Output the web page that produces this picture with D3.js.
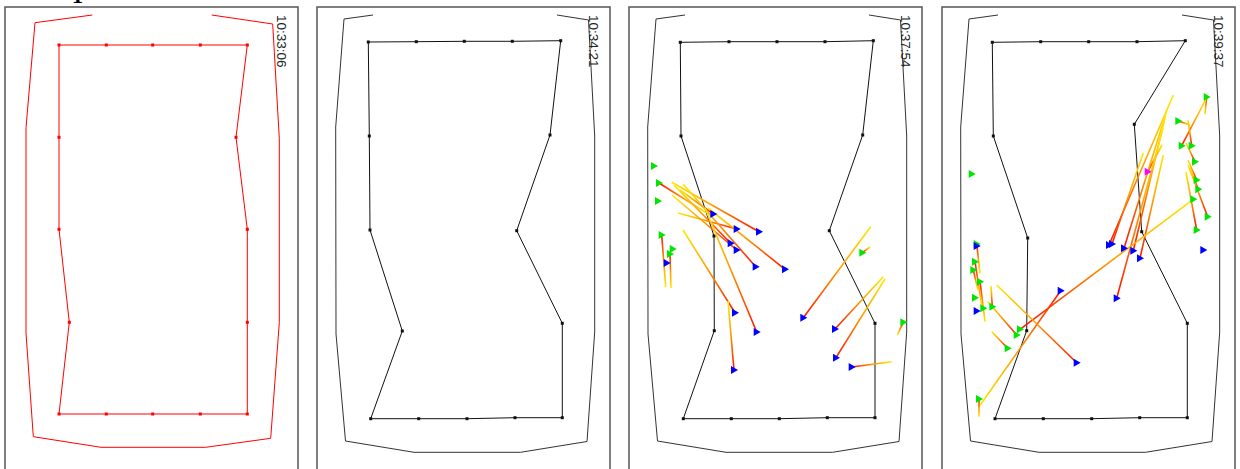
<!DOCTYPE html>
<html>
<head>
<meta charset="utf-8">
<script src="https://cdn.jsdelivr.net/npm/d3@7"></script>
<style>
  html, body { margin: 0; padding: 0; background: #fff; }
  svg { display: block; }
</style>
</head>
<body>
<svg id="chart" width="1240" height="469"></svg>
<script>
// ---------------- DATA (panel-local field units) ----------------
const panelLeft = [5, 317, 629, 942];
const timeLabels = ["10:33:06", "10:34:21", "10:37:54", "10:39:37"];

// outer boundary (open at the top)
const outer1 = [[87.3,15],[30,22.7],[21,127.7],[21,333],[28.3,436.7],[96,447.3],[200.7,447.3],[265.7,438.3],[274.3,322.7],[274.3,138.3],[267.7,24],[206.7,15]];
const outerStd = [[56,15],[27,19],[18.7,127],[19,334],[28.5,441],[97,452.3],[203.5,452.3],[270,441.5],[277.7,332],[277.7,136],[271.5,20],[240,15]];

// inner ring of 16 nodes (clockwise from top-left)
const inner1 = [[54,45],[101.3,45],[147.7,45],[195.3,45],[242.3,45],[231,137.3],[242.3,229.3],[242.3,322.3],[242.3,414],[195.3,414],[147.7,414],[101.3,414],[54,414],[64.3,322.3],[54,229.3],[54,137.3]];
const inner2 = [[51.3,42],[99.3,41.7],[147.3,41.3],[195.3,41.3],[243.7,40.7],[233,135],[199.7,230.7],[245.3,323.3],[245.3,417.7],[198,417.7],[150,418.7],[101.7,418.7],[53.7,418.7],[85.3,331],[53,230],[52.3,136]];
const inner3 = [[51.3,42.3],[100,41.7],[148,41.7],[196,41.7],[244.3,40.7],[233.7,135],[200.3,230.7],[246,323.3],[246,417.7],[198.3,417.7],[150.3,418.7],[102.3,418.7],[54.3,418.7],[85.3,330.7],[85,236],[52,136]];
const inner4 = [[50.3,42.3],[98.7,41.7],[146.7,41.7],[195,41.7],[243.3,40.7],[192.3,124.3],[199.7,231.7],[245.3,323.3],[245.3,417.7],[197.7,417.7],[149.7,418.7],[101.3,418.7],[53,418.7],[84.7,330.7],[85.7,238],[51.3,136]];

// arrows: [tailX, tailY, headX, headY, markerKind]
const arrows3 = [
  [76,212,30,183,"g"], [36.7,287,32.7,235,"g"], [42,288,41,254,"g"],
  [51,190,84.3,214,"b"], [42.7,182.3,130,231.7,"b"], [49,213,107.7,229,"b"],
  [45,185,101.7,243.3,"b"], [43,195,107.7,250,"b"], [54,184,126.7,266.7,"b"],
  [79,208,156,269.3,"b"], [54,230,106,312.7,"b"], [76,208,127.7,332,"b"],
  [99,301,105,370,"b"], [241.7,226.7,174.3,317.7,"b"], [254.3,276.7,206,329,"b"],
  [256,279,207,357.7,"b"], [262.7,361.7,222.7,367,"b"], [241,247,233.3,252.7,"g"],
  [268.3,335,274.3,322.3,"g"]
];
const lone3 = [[25,166,"g"],[29,201,"g"],[43.7,249,"g"],[37.7,263,"b"]];

const arrows4 = [
  [263,114,264.7,97,"g"], [248,125,236.3,121,"g"], [264,99,239.7,145.7,"g"],
  [246,120,249.7,145.7,"g"], [244,143,253,161.7,"g"], [246,160,254.7,180,"g"],
  [248,168,256.3,189.3,"g"], [246,165,265.7,216.7,"g"], [244,172,254.7,230,"g"],
  [220,145,205.7,171.7,"m"],
  [231.3,95,167,245,"b"], [225,110,182,248.3,"b"], [223,118,191.3,250.7,"b"],
  [221.3,155,198,258.3,"b"], [221,128,174.7,298.3,"b"], [201.3,153,170,244,"b"],
  [251.3,199.3,78,329.3,"g"], [37,406.7,118.7,290.7,"b"], [54.7,285,134.7,362.7,"b"],
  [37,416.7,37,399,"g"], [49.7,331.7,65.7,348.3,"g"], [46,301.7,74.7,335,"g"],
  [49,286,50.3,306.7,"g"], [38,273.3,34.7,244,"g"], [43,321.7,38,281.7,"g"],
  [40,308,33,261.7,"g"], [36,290,31.3,270,"g"]
];
const lone4 = [[29.7,174,"g"],[251.3,199.3,"g"],[261.3,250,"b"],[33,297.7,"g"],[41.3,308.3,"g"],[34.7,246,"b"],[34.7,311,"b"]];

const panels = [
  {outer: outer1, inner: inner1, color: "#ff0000", arrows: [], lone: []},
  {outer: outerStd, inner: inner2, color: "#111", arrows: [], lone: []},
  {outer: outerStd, inner: inner3, color: "#111", arrows: arrows3, lone: lone3},
  {outer: outerStd, inner: inner4, color: "#111", arrows: arrows4, lone: lone4}
];

const markerColor = {b: "#0000ff", g: "#00e600", m: "#ff00ff"};

// ---------------- DRAW ----------------
const svg = d3.select("#chart");
const defs = svg.append("defs");
const panelW = 293;

// cut-off title glyph at very top
svg.append("text").attr("x", 72).attr("y", 3)
  .attr("font-family", "Liberation Serif").attr("font-weight", "bold")
  .attr("font-size", 22).attr("fill", "#000").text("1");

let gid = 0;
panels.forEach((p, i) => {
  const x = d3.scaleLinear().domain([0, panelW]).range([panelLeft[i], panelLeft[i] + panelW]);
  const y = d3.scaleLinear().domain([0, 469]).range([0, 469]);
  const g = svg.append("g");

  // frame
  g.append("rect").attr("x", x(0)).attr("y", y(7)).attr("width", x(panelW) - x(0)).attr("height", 520)
    .attr("fill", "none").attr("stroke", "#555").attr("stroke-width", 1.5);

  const line = d3.line().x(d => x(d[0])).y(d => y(d[1]));
  const outerCol = i === 0 ? "#ff0000" : "#333";
  g.append("path").attr("d", line(p.outer)).attr("fill", "none")
    .attr("stroke", outerCol).attr("stroke-width", 1);
  g.append("path").attr("d", line(p.inner) + "Z").attr("fill", "none")
    .attr("stroke", p.color).attr("stroke-width", 1);
  g.selectAll("rect.node").data(p.inner).enter().append("rect")
    .attr("class", "node")
    .attr("x", d => x(d[0]) - 1.5).attr("y", d => y(d[1]) - 1.5)
    .attr("width", 3).attr("height", 3).attr("fill", p.color);

  // arrows
  p.arrows.forEach(a => {
    const id = "grad" + (gid++);
    const gr = defs.append("linearGradient").attr("id", id)
      .attr("gradientUnits", "userSpaceOnUse")
      .attr("x1", x(a[0])).attr("y1", y(a[1])).attr("x2", x(a[2])).attr("y2", y(a[3]));
    gr.append("stop").attr("offset", "0").attr("stop-color", "#ffe800");
    gr.append("stop").attr("offset", "0.45").attr("stop-color", "#ffa000");
    gr.append("stop").attr("offset", "1").attr("stop-color", "#ff1500");
    g.append("line").attr("x1", x(a[0])).attr("y1", y(a[1])).attr("x2", x(a[2])).attr("y2", y(a[3]))
      .attr("stroke", `url(#${id})`).attr("stroke-width", 1.6);
  });
  const tri = d => {
    const cx = x(d[0]), cy = y(d[1]);
    return `M${cx - 3},${cy - 4}L${cx + 4},${cy}L${cx - 3},${cy + 4}Z`;
  };
  g.selectAll("path.head").data(p.arrows.map(a => [a[2], a[3], a[4]])).enter().append("path")
    .attr("class", "head").attr("d", tri).attr("fill", d => markerColor[d[2]]);
  g.selectAll("path.lone").data(p.lone).enter().append("path")
    .attr("class", "lone").attr("d", tri).attr("fill", d => markerColor[d[2]]);

  // timestamp
  g.append("text")
    .attr("transform", `translate(${x(271.5)},${y(15)}) rotate(90)`)
    .attr("font-family", "Liberation Sans, Arial, sans-serif").attr("font-size", 13.5)
    .attr("fill", "#222").text(timeLabels[i]);
});
</script>
</body>
</html>
